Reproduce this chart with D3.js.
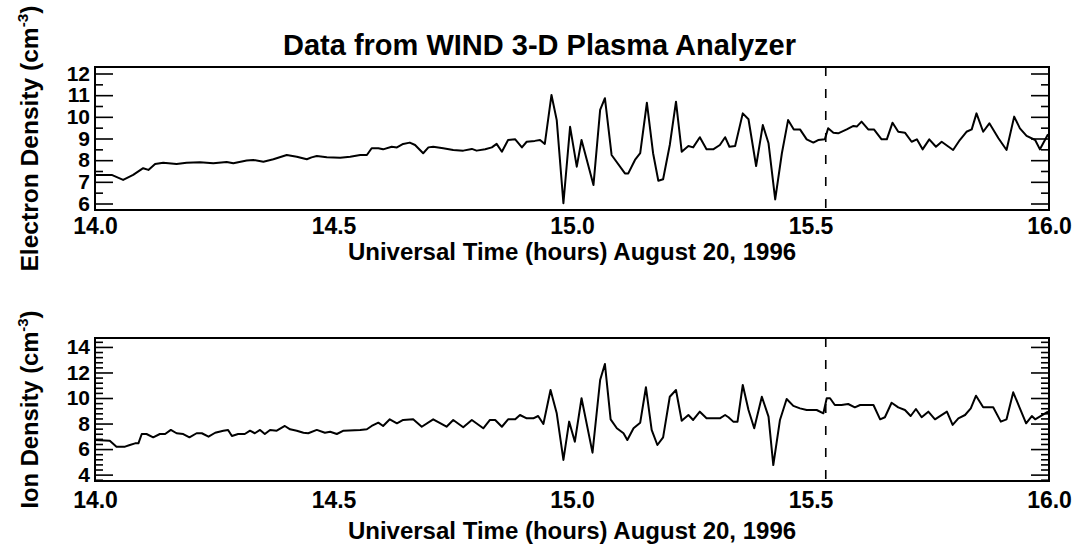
<!DOCTYPE html>
<html>
<head>
<meta charset="utf-8">
<script src="https://cdn.jsdelivr.net/npm/d3@7"></script>
<style>
  body { margin: 0; background: #fff; }
  svg { display: block; }
  text { font-family: "Liberation Sans", Arial, Helvetica, sans-serif; font-weight: bold; fill: #000; }
</style>
</head>
<body>
<div id="chart"></div>
<script>
const width = 1083;
const height = 550;

// time axis, hours UT
const timeTicks = [14.0, 14.5, 15.0, 15.5, 16.0];
const eventTime = 15.532; // dashed marker

const electronTicks = [6, 7, 8, 9, 10, 11, 12];
const ionTicks = [4, 6, 8, 10, 12, 14];

// electron density (cm^-3)
const electronTime = [
  14.000, 14.035, 14.059, 14.080, 14.101, 14.112, 14.126, 14.143, 14.171, 14.192,
  14.220, 14.248, 14.276, 14.290, 14.318, 14.332, 14.353, 14.374, 14.402, 14.423,
  14.444, 14.454, 14.465, 14.486, 14.514, 14.535, 14.556, 14.570, 14.580, 14.594,
  14.604, 14.622, 14.633, 14.646, 14.660, 14.671, 14.688, 14.699, 14.709, 14.730,
  14.751, 14.772, 14.790, 14.800, 14.818, 14.832, 14.842, 14.853, 14.866, 14.881,
  14.895, 14.905, 14.922, 14.933, 14.943, 14.957, 14.968, 14.982, 14.996, 15.010,
  15.020, 15.045, 15.059, 15.069, 15.083, 15.111, 15.118, 15.132, 15.143, 15.157,
  15.170, 15.181, 15.191, 15.205, 15.218, 15.230, 15.244, 15.254, 15.268, 15.282,
  15.296, 15.310, 15.321, 15.330, 15.342, 15.358, 15.370, 15.386, 15.400, 15.412,
  15.426, 15.440, 15.453, 15.465, 15.478, 15.492, 15.506, 15.516, 15.530, 15.537,
  15.548, 15.558, 15.576, 15.590, 15.597, 15.607, 15.621, 15.633, 15.649, 15.660,
  15.672, 15.684, 15.698, 15.712, 15.723, 15.735, 15.749, 15.763, 15.775, 15.799,
  15.813, 15.827, 15.838, 15.848, 15.862, 15.875, 15.894, 15.911, 15.927, 15.939,
  15.953, 15.971, 15.981, 15.998
];
const electronDensity = [
  7.32, 7.32, 7.09, 7.32, 7.63, 7.55, 7.82, 7.88, 7.82, 7.88,
  7.90, 7.86, 7.92, 7.86, 7.98, 8.01, 7.93, 8.04, 8.24, 8.16,
  8.04, 8.13, 8.19, 8.13, 8.11, 8.16, 8.24, 8.24, 8.55, 8.55,
  8.50, 8.62, 8.59, 8.75, 8.81, 8.70, 8.32, 8.59, 8.62, 8.55,
  8.47, 8.44, 8.52, 8.44, 8.50, 8.59, 8.75, 8.39, 8.93, 8.96,
  8.59, 8.85, 8.89, 8.93, 8.75, 11.01, 9.85, 6.01, 9.54, 7.70,
  8.93, 6.85, 10.32, 10.86, 8.24, 7.39, 7.39, 8.01, 8.32, 10.65,
  8.32, 7.05, 7.12, 8.70, 10.70, 8.39, 8.65, 8.59, 9.06, 8.50,
  8.50, 8.70, 9.06, 8.62, 8.65, 10.16, 9.89, 7.73, 9.62, 8.78,
  6.19, 8.32, 9.85, 9.42, 9.42, 8.96, 8.81, 8.93, 8.96, 9.47,
  9.27, 9.24, 9.42, 9.58, 9.55, 9.78, 9.42, 9.42, 8.96, 8.96,
  9.73, 9.31, 9.27, 8.85, 8.96, 8.50, 8.96, 8.62, 8.85, 8.47,
  8.93, 9.31, 9.42, 10.16, 9.31, 9.70, 9.01, 8.47, 10.01, 9.47,
  9.12, 8.93, 8.50, 9.20
];

// ion density (cm^-3)
const ionTime = [
  14.000, 14.031, 14.045, 14.063, 14.073, 14.084, 14.091, 14.098, 14.108, 14.122,
  14.136, 14.147, 14.159, 14.171, 14.185, 14.198, 14.213, 14.224, 14.238, 14.252,
  14.269, 14.279, 14.287, 14.300, 14.314, 14.325, 14.335, 14.346, 14.356, 14.367,
  14.381, 14.398, 14.409, 14.423, 14.437, 14.447, 14.465, 14.482, 14.493, 14.507,
  14.521, 14.556, 14.570, 14.580, 14.594, 14.604, 14.618, 14.633, 14.646, 14.667,
  14.685, 14.709, 14.737, 14.751, 14.772, 14.790, 14.814, 14.828, 14.839, 14.853,
  14.866, 14.881, 14.891, 14.905, 14.919, 14.929, 14.940, 14.955, 14.968, 14.982,
  14.994, 15.006, 15.020, 15.043, 15.059, 15.069, 15.081, 15.094, 15.108, 15.116,
  15.129, 15.143, 15.155, 15.167, 15.179, 15.191, 15.205, 15.218, 15.230, 15.244,
  15.254, 15.268, 15.282, 15.310, 15.321, 15.328, 15.338, 15.347, 15.358, 15.370,
  15.382, 15.398, 15.412, 15.422, 15.436, 15.450, 15.464, 15.478, 15.492, 15.513,
  15.527, 15.534, 15.541, 15.551, 15.565, 15.579, 15.593, 15.604, 15.621, 15.632,
  15.646, 15.656, 15.670, 15.684, 15.698, 15.710, 15.721, 15.733, 15.747, 15.761,
  15.786, 15.798, 15.810, 15.824, 15.836, 15.847, 15.862, 15.883, 15.899, 15.911,
  15.925, 15.939, 15.952, 15.964, 15.971, 15.998
];
const ionDensity = [
  6.71, 6.66, 6.19, 6.19, 6.32, 6.45, 6.45, 7.18, 7.18, 6.92,
  7.18, 7.18, 7.50, 7.24, 7.18, 6.92, 7.24, 7.24, 6.97, 7.28,
  7.44, 7.50, 7.03, 7.18, 7.18, 7.44, 7.24, 7.50, 7.18, 7.50,
  7.44, 7.81, 7.55, 7.44, 7.28, 7.24, 7.50, 7.28, 7.36, 7.18,
  7.44, 7.50, 7.55, 7.81, 8.07, 7.81, 8.33, 8.02, 8.28, 8.33,
  7.75, 8.33, 7.75, 8.28, 7.71, 8.28, 7.63, 8.28, 8.28, 7.75,
  8.33, 8.33, 8.67, 8.41, 8.41, 8.59, 7.97, 10.63, 8.80, 5.15,
  8.15, 6.58, 9.98, 5.72, 11.41, 12.66, 8.33, 7.63, 7.24, 6.71,
  7.63, 8.07, 10.84, 7.50, 6.32, 6.92, 10.10, 10.63, 8.22, 8.67,
  8.28, 8.93, 8.41, 8.41, 8.67, 8.49, 8.15, 8.15, 11.02, 9.06,
  7.63, 10.10, 8.54, 4.75, 8.28, 9.92, 9.38, 9.19, 9.06, 9.06,
  8.80, 9.98, 9.98, 9.45, 9.45, 9.53, 9.27, 9.45, 9.45, 9.45,
  8.33, 8.49, 9.63, 9.27, 9.06, 8.59, 9.14, 8.49, 8.93, 8.33,
  8.93, 7.89, 8.41, 8.67, 9.19, 10.18, 9.27, 9.27, 8.15, 8.33,
  10.45, 9.19, 8.02, 8.59, 8.33, 8.93
];

const left = 95;
const right = 1049;

const panels = [
  {
    top: 67, bottom: 210, domain: [5.7, 12.3],
    ticks: electronTicks,
    minor: d3.range(65, 120, 10).map((d) => d / 10),
    time: electronTime, values: electronDensity,
    label: "Electron Density (cm", labelLength: 266, labelPad: 8, titleGap: 50
  },
  {
    top: 338, bottom: 481, domain: [3.5, 14.7],
    ticks: ionTicks,
    minor: d3.range(36, 147, 4).filter((d) => d % 20 !== 0).map((d) => d / 10),
    time: ionTime, values: ionDensity,
    label: "Ion Density (cm", labelLength: 198, labelPad: 11, titleGap: 58
  }
];

const svg = d3.select("#chart").append("svg").attr("width", width).attr("height", height);
svg.append("rect").attr("width", width).attr("height", height).attr("fill", "#fff");

const x = d3.scaleLinear().domain([14, 16]).range([left, right]);

svg
  .append("text")
  .attr("x", 283)
  .attr("y", 55)
  .attr("font-size", 29)
  .text("Data from WIND 3-D Plasma Analyzer");

panels.forEach((p) => {
  const y = d3.scaleLinear().domain(p.domain).range([p.bottom, p.top]);
  const g = svg.append("g");

  // x labels only, no ticks
  const xAxis = g
    .append("g")
    .attr("transform", `translate(0,${p.bottom})`)
    .call(d3.axisBottom(x).tickValues(timeTicks).tickSize(0).tickPadding(p.labelPad).tickFormat(d3.format(".1f")));
  xAxis.select(".domain").remove();
  xAxis.selectAll("text").attr("font-size", 23).attr("font-family", null);

  // left axis, ticks pointing inward
  const yAxis = g
    .append("g")
    .attr("transform", `translate(${left},0)`)
    .call(d3.axisLeft(y).tickValues(p.ticks).tickSizeInner(-18).tickSizeOuter(0).tickPadding(5).tickFormat(d3.format("d")));
  yAxis.select(".domain").remove();
  yAxis.selectAll("text").attr("font-size", 21).attr("font-family", null);

  g.append("g")
    .attr("transform", `translate(${left},0)`)
    .call(d3.axisLeft(y).tickValues(p.minor).tickSize(-8).tickFormat(""))
    .select(".domain")
    .remove();

  // right axis mirrors the left one
  g.append("g")
    .attr("transform", `translate(${right},0)`)
    .call(d3.axisRight(y).tickValues(p.ticks).tickSize(-18).tickFormat(""))
    .select(".domain")
    .remove();
  g.append("g")
    .attr("transform", `translate(${right},0)`)
    .call(d3.axisRight(y).tickValues(p.minor).tickSize(-8).tickFormat(""))
    .select(".domain")
    .remove();

  g.selectAll(".tick line").attr("stroke", "#000").attr("stroke-width", 1.6);

  // frame
  g.append("rect")
    .attr("x", left)
    .attr("y", p.top)
    .attr("width", right - left)
    .attr("height", p.bottom - p.top)
    .attr("fill", "none")
    .attr("stroke", "#000")
    .attr("stroke-width", 2);

  // event marker
  g.append("line")
    .attr("x1", x(eventTime))
    .attr("x2", x(eventTime))
    .attr("y1", p.top)
    .attr("y2", p.bottom)
    .attr("stroke", "#000")
    .attr("stroke-width", 1.6)
    .attr("stroke-dasharray", "9,13");

  const line = d3
    .line()
    .x((d) => x(d[0]))
    .y((d) => y(d[1]));

  g.append("path")
    .datum(d3.zip(p.time, p.values))
    .attr("d", line)
    .attr("fill", "none")
    .attr("stroke", "#000")
    .attr("stroke-width", 2)
    .attr("stroke-linejoin", "round");

  // axis titles
  g.append("text")
    .attr("x", (left + right) / 2)
    .attr("y", p.bottom + p.titleGap)
    .attr("text-anchor", "middle")
    .attr("font-size", 24)
    .text("Universal Time (hours) August 20, 1996");

  const yt = g
    .append("text")
    .attr("transform", `translate(38,${(p.top + p.bottom) / 2}) rotate(-90)`)
    .attr("text-anchor", "middle")
    .attr("font-size", 24)
    .attr("textLength", p.labelLength)
    .attr("lengthAdjust", "spacingAndGlyphs");
  yt.append("tspan").text(p.label);
  yt.append("tspan").attr("font-size", 15).attr("dy", -10).text("-3");
  yt.append("tspan").attr("dy", 10).text(")");
});
</script>
</body>
</html>
